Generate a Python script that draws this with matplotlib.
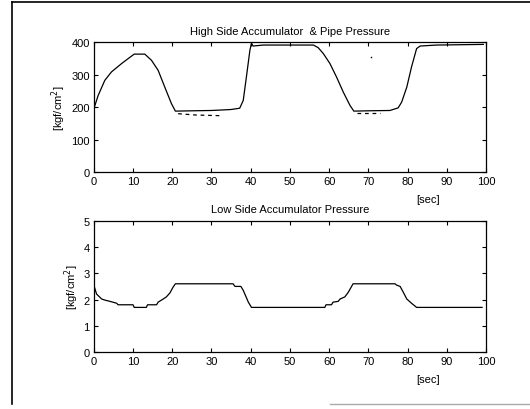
import numpy as np
import matplotlib
matplotlib.use('Agg')
from matplotlib import pyplot as plt
from matplotlib.lines import Line2D

plt.rcParams['font.family'] = ['Liberation Sans', 'DejaVu Sans']
plt.rcParams['font.size'] = 8

# high side accumulator pressure [kgf/cm2]
t_high = [0, 1.1, 2.8, 4.5, 7.1, 8.75, 10.3, 13, 14.7, 16.4, 18.1, 19.8, 20.8,
          25, 30, 33.4, 35, 37.2, 38.1, 38.9, 39.8, 40.2, 40.6, 43.2, 50, 56,
          57.2, 58.5, 60.2, 61.9, 63.6, 65.3, 66.3, 70, 75.5, 77.6, 78.5, 79.8,
          81.0, 82.3, 83.2, 87.4, 99.3]
p_high = [195, 236, 283, 309, 335, 350, 364, 364, 345, 314, 262, 211, 188,
          189, 190, 192, 193, 197, 221, 293, 376, 398, 389, 392, 392, 392,
          384, 366, 335, 293, 247, 206, 188, 189, 190, 198, 216, 262,
          324, 381, 389, 392, 394]

# pipe pressure (where it departs from the accumulator curve)
t_pipe1 = [21.5, 26, 32]
p_pipe1 = [180, 176, 174]
t_pipe2 = [67, 73]
p_pipe2 = [181, 181]
t_dot = [70.6]
p_dot = [355]

# low side accumulator pressure [kgf/cm2]
t_low = [0, 0.7, 2, 2.8, 4.1, 5.8, 6.2, 10, 10.3, 13.4, 13.7, 16, 16.4, 17.7,
         18.5, 19.4, 20.2, 20.8, 35.5, 36, 37.5, 38.1, 39.4, 40.2, 58.9, 59.2,
         60.6, 61, 62.3, 62.8, 64, 64.9, 66.1, 76.8, 77.2, 78.1, 78.9, 79.8,
         81, 82.3, 99]
p_low = [2.55, 2.21, 2.02, 1.98, 1.93, 1.86, 1.80, 1.80, 1.70, 1.70, 1.80, 1.80,
         1.90, 2.02, 2.10, 2.25, 2.47, 2.60, 2.60, 2.50, 2.50, 2.35, 1.90, 1.70,
         1.70, 1.80, 1.80, 1.90, 1.93, 2.02, 2.10, 2.28, 2.60, 2.60, 2.55, 2.50,
         2.28, 2.02, 1.86, 1.70, 1.70]

xticks = np.arange(0, 101, 10)

fig = plt.figure(figsize=(5.3, 4.1), dpi=100)
ax1 = fig.add_axes([0.177, 0.578, 0.740, 0.316])
ax2 = fig.add_axes([0.177, 0.139, 0.740, 0.320])

ax1.plot(t_high, p_high, color='black', lw=0.9)
ax1.plot(t_pipe1, p_pipe1, color='black', lw=0.9, ls=(0, (3, 3)))
ax1.plot(t_pipe2, p_pipe2, color='black', lw=0.9, ls=(0, (3, 3)))
ax1.plot(t_dot, p_dot, 's', color='black', ms=1.0, mew=0)
ax1.set_xlim(0, 100)
ax1.set_ylim(0, 400)
ax1.set_yticks([0, 100, 200, 300, 400])
ax1.set_title('High Side Accumulator  & Pipe Pressure', fontsize=8, pad=6)

ax2.plot(t_low, p_low, color='black', lw=0.9)
ax2.set_xlim(0, 100)
ax2.set_ylim(0, 5)
ax2.set_yticks([0, 1, 2, 3, 4, 5])
ax2.set_title('Low Side Accumulator Pressure', fontsize=8, pad=6)

for ax in (ax1, ax2):
    ax.set_xticks(xticks)
    ax.tick_params(direction='in', top=True, right=True, length=3, width=0.8,
                   labelsize=8, pad=3)
    ax.set_ylabel('[kgf/cm$^2$]', fontsize=8, labelpad=2)
    for s in ax.spines.values():
        s.set_linewidth(0.9)
    ax.text(85.2, -0.17, '[sec]', transform=ax.get_xaxis_transform(),
            ha='center', va='top', fontsize=8)

# outer frame as in the scanned page
fig.add_artist(Line2D([12/530, 12/530], [1 - 3/410, 1 - 405/410],
                      color='black', lw=1.2))
fig.add_artist(Line2D([12/530, 1.0], [1 - 3/410, 1 - 3/410],
                      color='black', lw=1.2))
fig.add_artist(Line2D([330/530, 1.0], [1 - 405/410, 1 - 405/410],
                      color='#aaaaaa', lw=1.0))

fig.savefig('out.png', dpi=100)
